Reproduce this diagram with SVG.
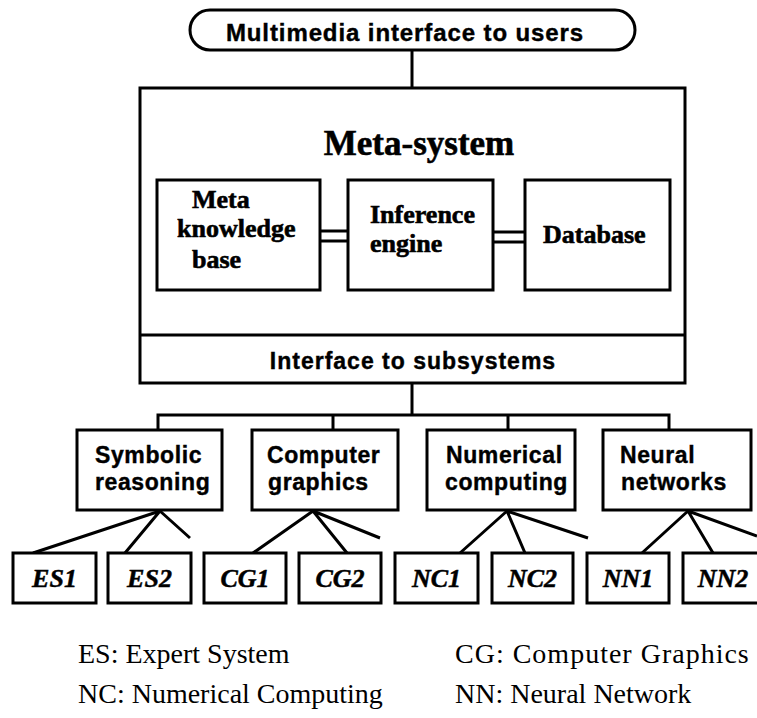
<svg xmlns="http://www.w3.org/2000/svg" width="757" height="718" viewBox="0 0 757 718">
  <style>
    .box { fill: #fff; stroke: #000; stroke-width: 3; }
    .frame { fill: none; stroke: #000; stroke-width: 3; }
    .ln { fill: none; stroke: #000; stroke-width: 3; stroke-linecap: butt; }
    .sans { font-family: "Liberation Sans", Arial, sans-serif; font-weight: bold; fill: #000; stroke: #000; stroke-width: 0.4; }
    .serif { font-family: "Liberation Serif", "Times New Roman", serif; font-weight: bold; fill: #000; stroke: #000; stroke-width: 0.6; }
    .leaf { font-family: "Liberation Serif", "Times New Roman", serif; font-weight: bold; font-style: italic; font-size: 26px; fill: #000; stroke: #000; stroke-width: 0.5; text-anchor: middle; }
    .sub { font-size: 23px; letter-spacing: 0.6px; }
    .inner { font-size: 26px; }
    .legend { font-family: "Liberation Serif", "Times New Roman", serif; font-size: 28px; fill: #000; }
  </style>
  <rect width="757" height="718" fill="#fff"/>

  <g id="user-interface">
    <rect class="box" x="190" y="10" width="445" height="40" rx="20" ry="20"/>
    <text class="sans" x="405" y="41" font-size="24" letter-spacing="0.9" text-anchor="middle">Multimedia interface to users</text>
  </g>

  <g id="meta-system">
    <rect class="frame" x="140" y="88" width="545" height="295"/>
    <line class="ln" x1="140" y1="335" x2="685" y2="335"/>
    <text class="serif" x="419" y="155" font-size="35" text-anchor="middle">Meta-system</text>
  </g>

  <!-- connectors -->
  <g id="connectors">
    <line class="ln" x1="412" y1="50" x2="412" y2="88"/>
    <!-- double links inside the meta-system -->
    <line class="ln" x1="320" y1="231" x2="348" y2="231"/>
    <line class="ln" x1="320" y1="241" x2="348" y2="241"/>
    <line class="ln" x1="493" y1="232" x2="525" y2="232"/>
    <line class="ln" x1="493" y1="242" x2="525" y2="242"/>
    <!-- bus to subsystems -->
    <line class="ln" x1="412" y1="383" x2="412" y2="415"/>
    <polyline class="ln" points="158,430 158,415 669,415 669,430"/>
    <line class="ln" x1="333" y1="415" x2="333" y2="430"/>
    <line class="ln" x1="508" y1="415" x2="508" y2="430"/>
    <!-- fans to leaf systems -->
    <path class="ln" d="M160,511 L33,553 M160,511 L125,553 M160,511 L190,538"/>
    <path class="ln" d="M313,511 L253,553 M313,511 L347,553 M313,511 L380,538"/>
    <path class="ln" d="M507,511 L460,553 M507,511 L525,553 M507,511 L588,538"/>
    <path class="ln" d="M688,511 L642,553 M688,511 L713,553 M688,511 L757,536"/>
  </g>

  <g id="meta-knowledge-base">
    <rect class="box" x="157" y="180" width="163" height="110"/>
    <text class="serif inner" x="192" y="208">Meta</text>
    <text class="serif inner" x="177" y="237">knowledge</text>
    <text class="serif inner" x="192" y="268">base</text>
  </g>

  <g id="inference-engine">
    <rect class="box" x="348" y="180" width="145" height="110"/>
    <text class="serif inner" x="370" y="223">Inference</text>
    <text class="serif inner" x="370" y="252">engine</text>
  </g>

  <g id="database">
    <rect class="box" x="525" y="180" width="145" height="110"/>
    <text class="serif inner" x="543" y="243">Database</text>
  </g>

  <g id="subsystem-interface">
    <text class="sans" x="413" y="369" font-size="23" letter-spacing="1" text-anchor="middle">Interface to subsystems</text>
  </g>

  <g id="symbolic-reasoning">
    <rect class="box" x="77" y="430" width="145" height="80"/>
    <text class="sans sub" x="95" y="463">Symbolic</text>
    <text class="sans sub" x="95" y="490">reasoning</text>
  </g>

  <g id="computer-graphics">
    <rect class="box" x="252" y="430" width="146" height="80"/>
    <text class="sans sub" x="267" y="463">Computer</text>
    <text class="sans sub" x="268" y="490">graphics</text>
  </g>

  <g id="numerical-computing">
    <rect class="box" x="427" y="430" width="148" height="80"/>
    <text class="sans sub" x="446" y="463">Numerical</text>
    <text class="sans sub" x="445" y="490">computing</text>
  </g>

  <g id="neural-networks">
    <rect class="box" x="603" y="430" width="148" height="80"/>
    <text class="sans sub" x="620" y="463">Neural</text>
    <text class="sans sub" x="621" y="490">networks</text>
  </g>

  <g id="es1"><rect class="box" x="13" y="553" width="83" height="50"/><text class="leaf" x="54.5" y="587">ES1</text></g>
  <g id="es2"><rect class="box" x="108" y="553" width="83" height="50"/><text class="leaf" x="149.5" y="587">ES2</text></g>
  <g id="cg1"><rect class="box" x="204" y="553" width="82" height="50"/><text class="leaf" x="245" y="587">CG1</text></g>
  <g id="cg2"><rect class="box" x="299" y="553" width="82" height="50"/><text class="leaf" x="340" y="587">CG2</text></g>
  <g id="nc1"><rect class="box" x="395" y="553" width="83" height="50"/><text class="leaf" x="436.5" y="587">NC1</text></g>
  <g id="nc2"><rect class="box" x="492" y="553" width="81" height="50"/><text class="leaf" x="532.5" y="587">NC2</text></g>
  <g id="nn1"><rect class="box" x="587" y="553" width="82" height="50"/><text class="leaf" x="628" y="587">NN1</text></g>
  <g id="nn2"><rect class="box" x="683" y="553" width="84" height="50"/><text class="leaf" x="723" y="587">NN2</text></g>

  <g id="legend">
    <text class="legend" x="78" y="663">ES: Expert System</text>
    <text class="legend" x="455" y="663" letter-spacing="1">CG: Computer Graphics</text>
    <text class="legend" x="78" y="703">NC: Numerical Computing</text>
    <text class="legend" x="455" y="703">NN: Neural Network</text>
  </g>
</svg>
